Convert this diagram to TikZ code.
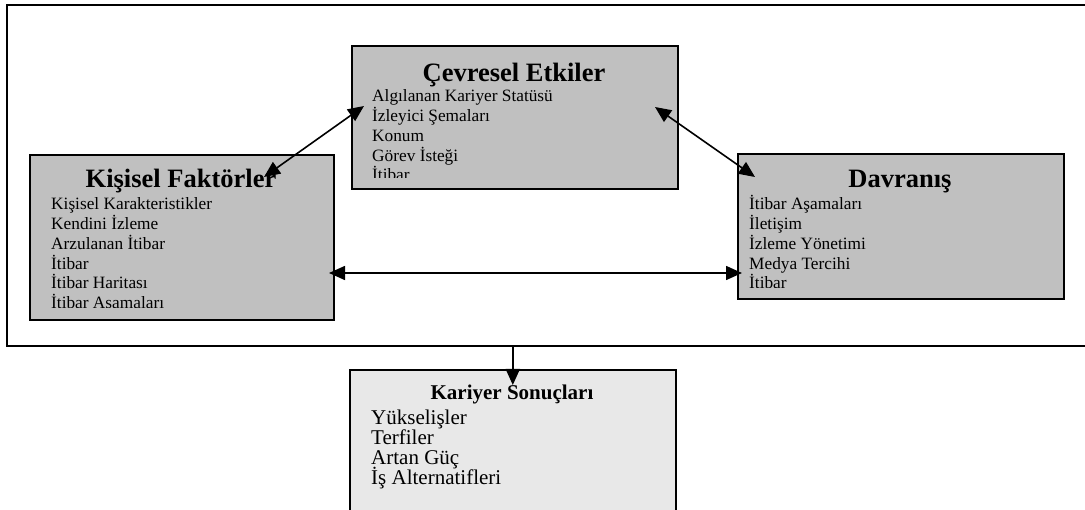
\documentclass[tikz,border=0pt]{standalone}
\usepackage{fontspec}
\setmainfont{Liberation Serif}
\usetikzlibrary{arrows.meta}
\definecolor{panelgray}{HTML}{C0C0C0}
\definecolor{resultgray}{HTML}{E8E8E8}
\tikzset{
  panel/.style={draw=black, line width=1.6pt, fill=panelgray, anchor=north west, inner sep=0pt},
  result/.style={panel, fill=resultgray},
  outer/.style={draw=black, line width=2pt, anchor=north west, inner sep=0pt},
  headline/.style={anchor=base, inner sep=0pt, font=\bfseries\fontsize{26.5}{30}\selectfont},
  subhead/.style={anchor=base, inner sep=0pt, font=\bfseries\fontsize{21}{24}\selectfont},
  item/.style={anchor=base west, inner sep=0pt, font=\fontsize{17.3}{19.7}\selectfont},
  bigitem/.style={anchor=base west, inner sep=0pt, font=\fontsize{21}{24}\selectfont},
  tip/.tip={Triangle[length=16pt,width=14pt]},
  link/.style={line width=1.6pt, tip-tip},
  flow/.style={line width=1.6pt, -tip}
}
\begin{document}
\begin{tikzpicture}[x=1pt, y=-1pt]
  \clip (0,0) rectangle (1085,510);

  % outer frame around the three factor panels
  \node[outer, minimum width=1100pt, minimum height=341pt] (frame) at (6,4) {};

  % panels
  \node[panel, minimum width=326pt, minimum height=143pt] (cevre) at (351,45) {};
  \node[panel, minimum width=304pt, minimum height=165pt] (kisisel) at (29,154) {};
  \node[panel, minimum width=326pt, minimum height=145pt] (davranis) at (737,153) {};
  \node[result, minimum width=326pt, minimum height=180pt] (kariyer) at (349,369) {};

  % Çevresel Etkiler
  \node[headline] (cevreT) at (514,82) {Çevresel Etkiler};
  \begin{scope}
    \clip (351,45) rectangle (677,177.5);
    \node[item] (c1) at (372,102)   {Algılanan Kariyer Statüsü};
    \node[item] (c2) at (372,121.7) {İzleyici Şemaları};
    \node[item] (c3) at (372,141.4) {Konum};
    \node[item] (c4) at (372,161.1) {Görev İsteği};
    \node[item] (c5) at (372,180.8) {İtibar};
  \end{scope}

  % Kişisel Faktörler
  \node[headline] (kisiselT) at (181,188) {Kişisel Faktörler};
  \begin{scope}
    \clip (29,154) rectangle (333,307.8);
    \node[item] (k1) at (51,210)   {Kişisel Karakteristikler};
    \node[item] (k2) at (51,229.7) {Kendini İzleme};
    \node[item] (k3) at (51,249.4) {Arzulanan İtibar};
    \node[item] (k4) at (51,269.1) {İtibar};
    \node[item] (k5) at (51,288.8) {İtibar Haritası};
    \node[item] (k6) at (51,308.5) {İtibar Aşamaları};
  \end{scope}

  % Davranış
  \node[headline] (davranisT) at (900,188) {Davranış};
  \begin{scope}
    \clip (737,153) rectangle (1063,287.8);
    \node[item] (d1) at (749,210)   {İtibar Aşamaları};
    \node[item] (d2) at (749,229.7) {İletişim};
    \node[item] (d3) at (749,249.4) {İzleme Yönetimi};
    \node[item] (d4) at (749,269.1) {Medya Tercihi};
    \node[item] (d5) at (749,288.8) {İtibar};
  \end{scope}

  % Kariyer Sonuçları
  \node[subhead] (kariyerT) at (512,400) {Kariyer Sonuçları};
  \node[bigitem] (r1) at (371,425) {Yükselişler};
  \node[bigitem] (r2) at (371,445) {Terfiler};
  \node[bigitem] (r3) at (371,465) {Artan Güç};
  \node[bigitem] (r4) at (371,485) {İş Alternatifleri};

  % connector end points
  \coordinate (kc) at (264,177);
  \coordinate (ck) at (364,106);
  \coordinate (cd) at (655,107);
  \coordinate (dc) at (755,177);
  \coordinate (kd) at (329,273);
  \coordinate (dk) at (742,273);

  \draw[link] (kc) -- (ck);
  \draw[link] (cd) -- (dc);
  \draw[link] (kd) -- (dk);
  \draw[flow] (frame.south -| kariyer.north) -- ([yshift=-16pt]kariyer.north);
\end{tikzpicture}
\end{document}
